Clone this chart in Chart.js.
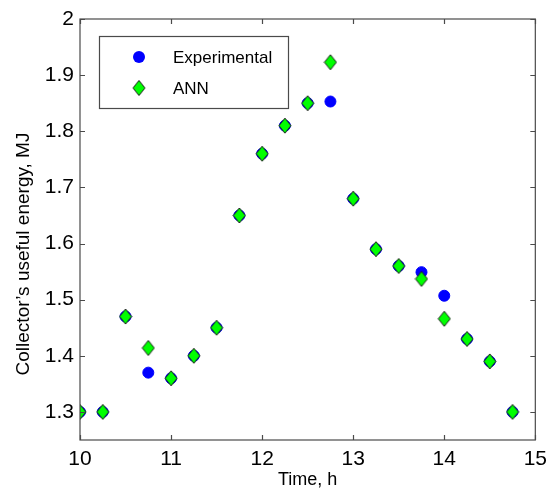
<!DOCTYPE html>
<html>
<head>
<meta charset="utf-8">
<script src="https://cdn.jsdelivr.net/npm/chart.js@4.4.1/dist/chart.umd.min.js"></script>
<style>
  html, body { margin: 0; padding: 0; background: #fff; }
  #wrap { width: 554px; height: 490px; }
</style>
</head>
<body>
<div id="wrap"><canvas id="energyChart" width="554" height="490"></canvas></div>
<script>
// Time of day (h), every quarter hour
const times = [10, 10.25, 10.5, 10.75, 11, 11.25, 11.5, 11.75, 12, 12.25,
               12.5, 12.75, 13, 13.25, 13.5, 13.75, 14, 14.25, 14.5, 14.75];
const experimental = [1.30, 1.30, 1.47, 1.37, 1.36, 1.40, 1.45, 1.65, 1.76, 1.81,
                      1.85, 1.853, 1.68, 1.59, 1.56, 1.549, 1.507, 1.43, 1.39, 1.30];
const ann = [1.30, 1.30, 1.47, 1.414, 1.36, 1.40, 1.45, 1.65, 1.76, 1.81,
             1.85, 1.923, 1.68, 1.59, 1.56, 1.537, 1.466, 1.43, 1.39, 1.30];
const xTicks = [10, 11, 12, 13, 14, 15];
const yTicks = [1.3, 1.4, 1.5, 1.6, 1.7, 1.8, 1.9, 2];

const FONT = "'Liberation Sans', Arial, sans-serif";
const AXIS_COLOR = '#4a4a4a';
const Y_TITLE = 'Collector\u2019s useful energy, MJ';

// green diamond marker, a bit taller than wide
function makeDiamond(w, h) {
    const c = document.createElement('canvas');
    c.width = w + 2; c.height = h + 2;
    const g = c.getContext('2d');
    g.beginPath();
    g.moveTo(c.width / 2, 1);
    g.lineTo(c.width - 1, c.height / 2);
    g.lineTo(c.width / 2, c.height - 1);
    g.lineTo(1, c.height / 2);
    g.closePath();
    g.fillStyle = '#00ff00';
    g.fill();
    g.lineWidth = 1;
    g.strokeStyle = '#1a1a1a';
    g.stroke();
    return c;
}
const diamond = makeDiamond(12, 15);

// box round the plot with MATLAB-style inward ticks, the y label and the legend
const boxPlugin = {
    id: 'boxPlugin',
    afterDraw(chart) {
        const { ctx, chartArea: a, scales } = chart;
        ctx.save();
        ctx.strokeStyle = AXIS_COLOR;
        ctx.lineWidth = 1.2;
        ctx.strokeRect(a.left, a.top, a.right - a.left, a.bottom - a.top);
        const len = 5;
        ctx.beginPath();
        scales.x.ticks.forEach(t => {
            const px = Math.round(scales.x.getPixelForValue(t.value)) + 0.5;
            ctx.moveTo(px, a.bottom); ctx.lineTo(px, a.bottom - len);
            ctx.moveTo(px, a.top); ctx.lineTo(px, a.top + len);
        });
        scales.y.ticks.forEach(t => {
            const py = Math.round(scales.y.getPixelForValue(t.value)) + 0.5;
            ctx.moveTo(a.left, py); ctx.lineTo(a.left + len, py);
            ctx.moveTo(a.right, py); ctx.lineTo(a.right - len, py);
        });
        ctx.stroke();

        // y axis label, sitting a little below the middle of the axis
        ctx.save();
        ctx.translate(24, 254);
        ctx.rotate(-Math.PI / 2);
        ctx.font = '19px ' + FONT;
        ctx.fillStyle = '#000';
        ctx.textAlign = 'center';
        ctx.textBaseline = 'middle';
        ctx.fillText(Y_TITLE, 0, 0);
        ctx.restore();

        // legend
        const lx = 99, ly = 36, lw = 189, lh = 72;
        ctx.fillStyle = '#fff';
        ctx.fillRect(lx, ly, lw, lh);
        ctx.strokeStyle = AXIS_COLOR;
        ctx.lineWidth = 1.2;
        ctx.strokeRect(lx + 0.5, ly + 0.5, lw, lh);
        const ds = chart.data.datasets;
        ctx.font = '17px ' + FONT;
        ctx.textBaseline = 'middle';
        ctx.textAlign = 'left';
        ctx.beginPath();
        ctx.arc(139, 57, 6, 0, Math.PI * 2);
        ctx.fillStyle = ds[0].backgroundColor;
        ctx.fill();
        ctx.fillStyle = '#000';
        ctx.fillText(ds[0].label, 173, 58);
        ctx.drawImage(diamond, 139 - diamond.width / 2, 88 - diamond.height / 2);
        ctx.fillText(ds[1].label, 173, 89);
        ctx.restore();
    }
};

new Chart(document.getElementById('energyChart'), {
    type: 'scatter',
    data: {
        datasets: [
            {
                label: 'Experimental',
                data: times.map((t, i) => ({ x: t, y: experimental[i] })),
                order: 1,
                pointStyle: 'circle',
                pointRadius: 5.5,
                backgroundColor: '#0000ff',
                borderColor: '#0000ff',
                borderWidth: 1
            },
            {
                label: 'ANN',
                data: times.map((t, i) => ({ x: t, y: ann[i] })),
                order: 0,
                pointStyle: diamond,
                backgroundColor: '#00ff00',
                borderColor: '#000'
            }
        ]
    },
    options: {
        responsive: false,
        animation: false,
        events: [],
        layout: { padding: { top: 19, right: 14, left: 0, bottom: 0 } },
        plugins: {
            legend: { display: false },
            tooltip: { enabled: false }
        },
        scales: {
            x: {
                type: 'linear',
                min: 10,
                max: 15,
                afterFit(scale) { scale.height = 50; },
                afterBuildTicks(scale) { scale.ticks = xTicks.map(v => ({ value: v })); },
                grid: { display: false, drawTicks: false },
                border: { display: false },
                ticks: {
                    padding: 7,
                    color: '#000',
                    font: { family: FONT, size: 21 },
                    callback: v => String(v)
                },
                title: {
                    display: true,
                    text: 'Time, h',
                    color: '#000',
                    font: { family: FONT, size: 18 },
                    padding: { top: 0, bottom: -1 }
                }
            },
            y: {
                type: 'linear',
                min: 1.25,
                max: 2,
                afterFit(scale) { scale.width = 80; },
                afterBuildTicks(scale) { scale.ticks = yTicks.map(v => ({ value: v })); },
                grid: { display: false, drawTicks: false },
                border: { display: false },
                ticks: {
                    padding: 6,
                    color: '#000',
                    font: { family: FONT, size: 21 },
                    callback: v => String(Number(v.toFixed(1)))
                }
            }
        }
    },
    plugins: [boxPlugin]
});
</script>
</body>
</html>
